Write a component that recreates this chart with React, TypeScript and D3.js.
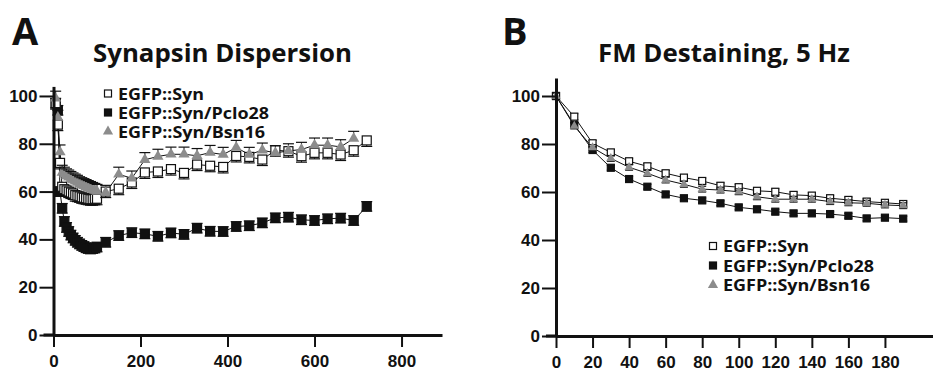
import React, { useEffect, useRef } from "react";
import * as d3 from "d3";

// panel A: synapsin dispersion (time in s)
const timeA = [5, 10, 15, 20, 25, 30, 35, 40, 45, 50, 55, 60, 65, 70, 75, 80, 85, 90, 95, 100,
  120, 150, 180, 210, 240, 270, 300, 330, 360, 390, 420, 450, 480, 510, 540, 570, 600, 630, 660, 690, 720];
const synA = [97, 88, 72, 62, 61, 60.5, 60, 59.6, 59.2, 58.5, 58.3, 58, 57.6, 57.4, 57.2, 57, 56.8, 56.8, 57, 57,
  60, 61.2, 63.8, 68, 68.4, 69.4, 67.8, 71.3, 70.8, 70.3, 74.9, 74.5, 73.4, 77.3, 76.9, 74.8, 76.2, 76.2, 75.5, 77.3, 81.4];
const pcloA = [97, 94, 60, 53, 47.5, 45, 43.3, 41.8, 40.6, 39.6, 38.8, 38.1, 37.5, 37, 36.5, 36.2, 36, 36.2, 36.4, 36.8,
  38.8, 41.6, 42.8, 42.3, 41.3, 42.7, 42.1, 44.7, 43.4, 43.3, 45.4, 45.7, 46.9, 49, 49.3, 48.2, 47.9, 48.6, 48.9, 47.9, 53.8];
const bsnA = [99, 91, 76.5, 68, 67.2, 66.5, 66, 65.4, 64.8, 64.3, 63.8, 63.2, 62.8, 62.4, 62, 61.6, 61.2, 60.8, 60.4, 60,
  59.6, 67.2, 65.6, 73.3, 74.7, 75.6, 75.6, 75, 76.3, 75.5, 78.4, 75.5, 77.3, 76.2, 77, 77.6, 79.4, 79.4, 78.7, 82.2, null];

// panel B: FM destaining at 5 Hz (time in s)
const timeB = [0, 10, 20, 30, 40, 50, 60, 70, 80, 90, 100, 110, 120, 130, 140, 150, 160, 170, 180, 190];
const synB = [100, 91.4, 80.3, 76.5, 72.8, 70.7, 67.8, 66, 64.6, 62.6, 62, 60.5, 60.1, 58.8, 58.5, 57.4, 56.7, 56, 55.5, 55];
const pcloB = [100, 88, 77.5, 70.1, 65.4, 62.2, 59, 57.4, 56.5, 55.3, 53.6, 52.8, 51.8, 51.1, 51.1, 50.8, 50.1, 49, 49.3, 48.9];
const bsnB = [100, 87.5, 78.5, 74, 70.3, 67.8, 65, 63.2, 61.2, 60.8, 60.1, 58, 57, 57, 57, 56, 55.5, 55.3, 54.6, 54.3];

const legendLabels = ["EGFP::Syn", "EGFP::Syn/Pclo28", "EGFP::Syn/Bsn16"];
const yTicks = [0, 20, 40, 60, 80, 100];
const xTicksA = [0, 200, 400, 600, 800];
const xTicksB = [0, 20, 40, 60, 80, 100, 120, 140, 160, 180];

const GRAY = "#8c8c8c";
const TICK_FONT = "'Liberation Sans', Arial, sans-serif";
const TITLE_FONT = "'Open Sans', 'Noto Sans', sans-serif";

function drawMarker(g, kind, cx, cy, size) {
  if (kind === "tri") {
    g.append("path")
      .attr("d", d3.symbol(d3.symbolTriangle, size * size * 0.45)())
      .attr("transform", `translate(${cx},${cy})`)
      .attr("fill", GRAY);
  } else {
    g.append("rect")
      .attr("x", cx - size / 2)
      .attr("y", cy - size / 2)
      .attr("width", size)
      .attr("height", size)
      .attr("fill", kind === "open" ? "#fff" : "#111")
      .attr("stroke", "#111")
      .attr("stroke-width", 1.2);
  }
}

function drawPanel(svg, cfg) {
  const g = svg.append("g");
  const x = d3.scaleLinear().domain(cfg.xDomain).range(cfg.xRange);
  const y = d3.scaleLinear().domain(cfg.yDomain).range(cfg.yRange);

  const line = d3.line()
    .defined((d) => d[1] != null)
    .x((d) => x(d[0]))
    .y((d) => y(d[1]));

  cfg.series.forEach((s) => {
    g.append("path")
      .datum(cfg.time.map((t, i) => [t, s.values[i]]))
      .attr("d", line)
      .attr("fill", "none")
      .attr("stroke", "#111")
      .attr("stroke-width", 1);
  });

  cfg.series.forEach((s) => {
    cfg.time.forEach((t, i) => {
      const v = s.values[i];
      if (v == null) return;
      const cx = x(t);
      const cy = y(v);
      const ends = [];
      if (s.dir !== "down") ends.push(y(v + s.err));
      if (s.dir !== "up") ends.push(y(v - s.err));
      ends.forEach((ey) => {
        g.append("line").attr("x1", cx).attr("x2", cx).attr("y1", cy).attr("y2", ey)
          .attr("stroke", "#111").attr("stroke-width", 1);
        g.append("line").attr("x1", cx - cfg.cap / 2).attr("x2", cx + cfg.cap / 2)
          .attr("y1", ey).attr("y2", ey)
          .attr("stroke", "#111").attr("stroke-width", 1.2);
      });
      drawMarker(g, s.kind, cx, cy, s.kind === "tri" ? cfg.triSize : cfg.size);
    });
  });

  // axes
  const yAxis = d3.axisLeft(y).tickValues(yTicks).tickSize(14).tickPadding(2).tickSizeOuter(0);
  const xAxis = d3.axisBottom(x).tickValues(cfg.xTicks).tickSize(12).tickPadding(8).tickSizeOuter(0);

  const ya = g.append("g").attr("transform", `translate(${cfg.xRange[0]},0)`).call(yAxis);
  const xa = g.append("g").attr("transform", `translate(0,${cfg.yRange[0]})`).call(xAxis);

  [ya, xa].forEach((a) => {
    a.select(".domain").attr("stroke", "#111").attr("stroke-width", 3);
    a.selectAll(".tick line").attr("stroke", "#111").attr("stroke-width", 2);
    a.selectAll(".tick text")
      .attr("fill", "#111")
      .style("font-family", TICK_FONT)
      .style("font-weight", "bold")
      .style("font-size", "17px");
  });
  g.append("line")
    .attr("x1", cfg.xRange[0] - 10).attr("x2", cfg.xRange[0])
    .attr("y1", cfg.yRange[0]).attr("y2", cfg.yRange[0])
    .attr("stroke", "#111").attr("stroke-width", 3);

  // panel letter and title
  g.append("text").attr("x", cfg.letterX).attr("y", 45)
    .style("font-family", TITLE_FONT).style("font-weight", "bold").style("font-size", "38px")
    .attr("fill", "#111").text(cfg.letter);
  g.append("text").attr("x", cfg.titleX).attr("y", 62)
    .attr("textLength", cfg.titleW).attr("lengthAdjust", "spacingAndGlyphs")
    .style("font-family", TITLE_FONT).style("font-weight", "bold").style("font-size", "25px")
    .attr("fill", "#111").text(cfg.title);

  // legend
  const widths = [86, 151, 147];
  cfg.series.slice().sort((a, b) => a.order - b.order).forEach((s, i) => {
    const cy = cfg.legendY + i * cfg.legendGap;
    drawMarker(g, s.kind, cfg.legendX, cy, s.kind === "tri" ? 10 : 7);
    g.append("text").attr("x", cfg.legendX + 10).attr("y", cy + 6)
      .attr("textLength", widths[s.order]).attr("lengthAdjust", "spacingAndGlyphs")
      .style("font-family", TITLE_FONT).style("font-weight", "bold").style("font-size", "16px")
      .attr("fill", "#111").text(legendLabels[s.order]);
  });
}

export default function App() {
  const ref = useRef(null);

  useEffect(() => {
    const svg = d3.select(ref.current);
    svg.selectAll("*").remove();

    drawPanel(svg, {
      time: timeA,
      xDomain: [0, 893], xRange: [53.5, 442],
      yDomain: [0, 104], yRange: [335, 86.4],
      xTicks: xTicksA,
      size: 9, triSize: 11, cap: 11,
      series: [
        { values: pcloA, kind: "filled", err: 2, dir: "both", order: 1 },
        { values: synA, kind: "open", err: 2.5, dir: "down", order: 0 },
        { values: bsnA, kind: "tri", err: 3, dir: "up", order: 2 },
      ],
      letter: "A", letterX: 12,
      title: "Synapsin Dispersion", titleX: 93, titleW: 259,
      legendX: 108, legendY: 93.5, legendGap: 19,
    });

    drawPanel(svg, {
      time: timeB,
      xDomain: [0, 206.3], xRange: [556, 933],
      yDomain: [0, 107.5], yRange: [336, 78],
      xTicks: xTicksB,
      size: 7, triSize: 9, cap: 8,
      series: [
        { values: pcloB, kind: "filled", err: 1, dir: "both", order: 1 },
        { values: synB, kind: "open", err: 1.2, dir: "both", order: 0 },
        { values: bsnB, kind: "tri", err: 1.2, dir: "both", order: 2 },
      ],
      letter: "B", letterX: 502,
      title: "FM Destaining, 5 Hz", titleX: 598, titleW: 252,
      legendX: 713, legendY: 246, legendGap: 19.5,
    });
  }, []);

  return (
    <svg
      ref={ref}
      width={933}
      height={374}
      style={{ position: "absolute", left: 0, top: 0, background: "#fff" }}
    />
  );
}
